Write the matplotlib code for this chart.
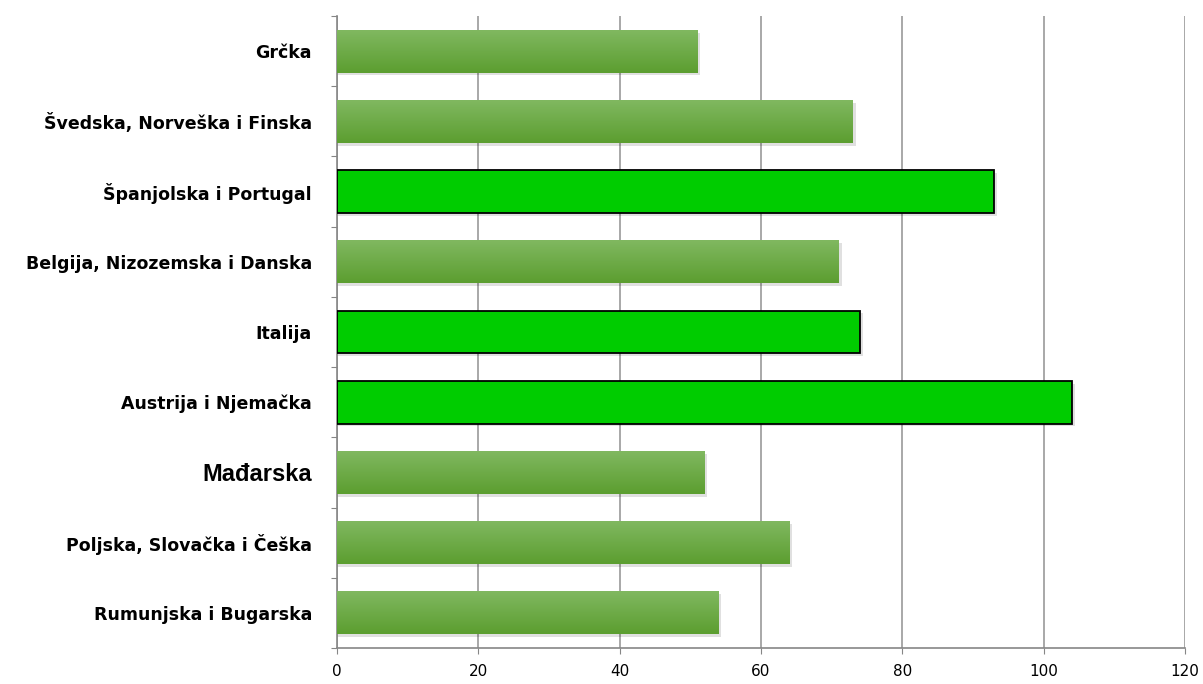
import numpy as np
import matplotlib.pyplot as plt
from matplotlib.colors import LinearSegmentedColormap

categories = ["Grčka", "Švedska, Norveška i Finska", "Španjolska i Portugal",
              "Belgija, Nizozemska i Danska", "Italija", "Austrija i Njemačka",
              "Mađarska", "Poljska, Slovačka i Češka", "Rumunjska i Bugarska"]
values = [51, 73, 93, 71, 74, 104, 52, 64, 54]
highlight = [False, False, True, False, True, True, False, False, False]

fig = plt.figure(figsize=(12.03, 6.84), dpi=100)
ax = fig.add_axes([0.2801, 0.0526, 0.7049, 0.924])

n = len(categories)
ypos = np.arange(n)[::-1]
h = 0.61

grad = np.linspace(0, 1, 64).reshape(-1, 1)
cmap = LinearSegmentedColormap.from_list("g", ["#80b860", "#5c9e30"])

for y, v, hl in zip(ypos, values, highlight):
    # soft shadow
    ax.barh(y - 0.04, v + 0.4, height=h, left=0, color="#000000", alpha=0.12,
            zorder=2, linewidth=0)
    if hl:
        ax.barh(y, v, height=h, color="#00cc00", edgecolor="black",
                linewidth=1.3, zorder=3)
    else:
        ax.barh(y, v, height=h, color="#6aab40", linewidth=0, zorder=3)
        ax.imshow(grad, cmap=cmap, aspect="auto", zorder=3.5,
                  extent=[0, v, y - h / 2, y + h / 2], origin="upper")

ax.set_xlim(0, 120)
ax.set_ylim(-0.5, n - 0.5)
ax.set_xticks(np.arange(0, 121, 20))
ax.set_yticks(np.arange(n + 1) - 0.5)
ax.set_yticklabels([])
ax.set_yticks(ypos, minor=True)
ax.set_yticklabels(categories, minor=True)
for lbl in ax.get_yticklabels(minor=True):
    lbl.set_fontsize(12.5)
    if lbl.get_text() == "Mađarska":
        lbl.set_fontsize(17)
        lbl.set_fontfamily("Liberation Sans")
    lbl.set_fontweight("bold")
ax.tick_params(axis="y", which="minor", length=0, pad=18)
ax.tick_params(axis="y", which="major", length=4.5, color="#868686")
ax.tick_params(axis="x", length=4.5, color="#868686", labelsize=11, pad=7)

ax.grid(axis="x", color="#9a9a9a", linewidth=1.2, zorder=0)
ax.set_axisbelow(True)
for s in ["top", "right"]:
    ax.spines[s].set_visible(False)
for s in ["left", "bottom"]:
    ax.spines[s].set_color("#868686")
    ax.spines[s].set_linewidth(1.2)

fig.savefig("out.png", dpi=100)
